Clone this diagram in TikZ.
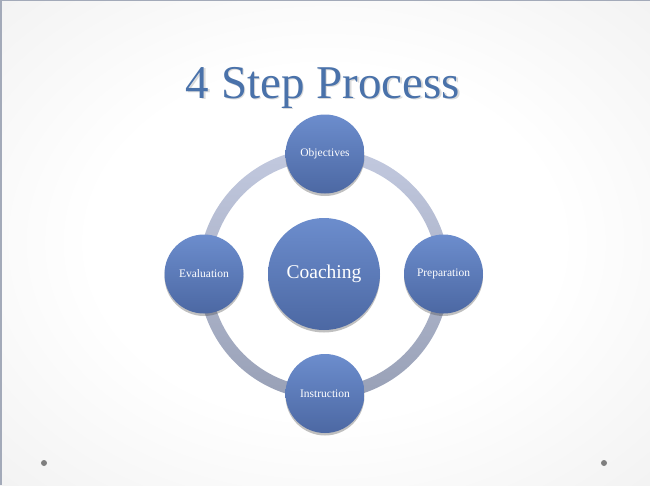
\documentclass[tikz,border=0pt]{standalone}
\usepackage{fontspec}
\setmainfont{Liberation Serif}
\usetikzlibrary{shadows}
\definecolor{titleblue}{HTML}{4A72AA}
\definecolor{ctop}{HTML}{6C8DCD}
\definecolor{cbot}{HTML}{4C68A3}
\definecolor{ringtop}{HTML}{C2C9DF}
\definecolor{ringbot}{HTML}{98A0B6}
\definecolor{bgedge}{HTML}{D9D9D9}
\definecolor{framegray}{HTML}{A3AAB9}
\definecolor{dotgray}{HTML}{7F7F7F}
\pgfdeclareradialshading{slidebg}{\pgfpoint{0bp}{0bp}}{%
  color(0bp)=(white); color(18bp)=(white); color(72bp)=(bgedge)}
\tikzset{
  ball/.style={circle, draw=none, top color=ctop, bottom color=cbot,
    text=white, inner sep=0pt,
    drop shadow={shadow xshift=0pt, shadow yshift=-2.5pt, opacity=0.35, fill=black!70}},
  smallball/.style={ball, minimum size=79pt, font=\fontsize{11.5}{13}\selectfont},
  bigball/.style={ball, minimum size=112pt, font=\fontsize{19.5}{22}\selectfont},
  slidedot/.style={circle, fill=dotgray, draw=none, minimum size=6pt, inner sep=0pt}
}
\begin{document}
\begin{tikzpicture}[x=1pt,y=-1pt]
  \useasboundingbox (0,0) rectangle (650,485);
  % background
  \path[shading=slidebg] (0,0) rectangle (650,485);
  \draw[framegray, line width=4pt] (0,485) -- (0,0);
  \draw[framegray, line width=2.5pt] (0,0) -- (650,0);
  % title
  \node[font=\fontsize{47}{52}\selectfont, text=black!40, opacity=0.35, anchor=base] (titleshadow) at (324.5,99.5) {4 Step Process};
  \node[font=\fontsize{47}{52}\selectfont, text=titleblue, anchor=base] (title) at (323,98) {4 Step Process};
  % ring
  \coordinate (ringc) at (324,274);
  \path[top color=ringtop, bottom color=ringbot, even odd rule]
    (ringc) circle (125.5) (ringc) circle (113.5);
  % circles
  \node[bigball] (coaching) at (ringc) {Coaching};
  \node[smallball] (objectives) at (325,154) {Objectives};
  \node[smallball] (preparation) at (443.5,274) {Preparation};
  \node[smallball] (instruction) at (325,393.5) {Instruction};
  \node[smallball] (evaluation) at (204,274) {Evaluation};
  % slide dots
  \node[slidedot] (dotl) at (44,463) {};
  \node[slidedot] (dotr) at (604,463) {};
\end{tikzpicture}
\end{document}
